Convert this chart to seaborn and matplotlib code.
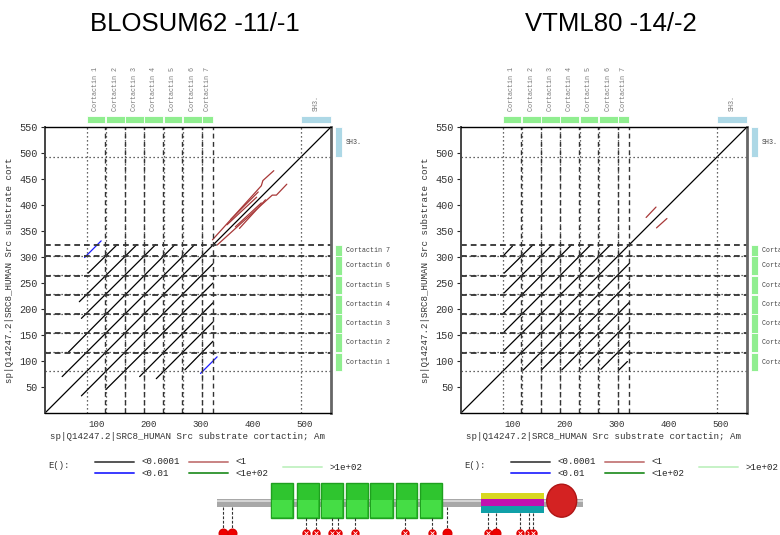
import numpy as np
import pandas as pd
import matplotlib
matplotlib.use('Agg')
import matplotlib.pyplot as plt
import seaborn as sns
from matplotlib.patches import Rectangle, Ellipse

# domains on the sequence (same protein on both axes)
rep_names = ['Cortactin 1', 'Cortactin 2', 'Cortactin 3', 'Cortactin 4',
             'Cortactin 5', 'Cortactin 6', 'Cortactin 7']
rep_start = [80, 117, 154, 191, 228, 265, 302]
rep_end = [116, 153, 190, 227, 264, 301, 323]
sh3_name = 'SH3.'
sh3_start, sh3_end = 492, 550
seq_len = 550

# hits, one polyline per hit
blosum_black = [
    [(0, 0), (550, 550)],
    [(33, 70), (288, 324)], [(45, 117), (250, 324)], [(70, 182), (213, 324)],
    [(66, 214), (177, 324)], [(83, 269), (139, 324)],
    [(70, 33), (323, 287)], [(117, 45), (323, 250)], [(182, 70), (323, 212)],
    [(214, 66), (323, 175)], [(269, 83), (323, 138)],
]
blosum_blue = [[(76, 299), (108, 331)], [(299, 76), (331, 108)]]
blosum_red = [
    [(322, 333), (416, 437), (419, 447), (440, 466)],
    [(331, 323), (437, 419), (445, 419), (465, 440)],
    [(357, 372), (410, 425)],
    [(350, 362), (407, 415)],
    [(374, 355), (424, 410)],
    [(366, 358), (416, 404)],
]
vtml_black = [
    [(0, 0), (550, 550)],
    [(82, 119), (288, 324)], [(83, 156), (250, 324)], [(82, 192), (213, 324)],
    [(83, 231), (176, 324)], [(83, 269), (139, 324)], [(81, 302), (99, 321)],
    [(119, 82), (324, 288)], [(155, 83), (324, 252)], [(194, 83), (324, 213)],
    [(232, 84), (324, 176)], [(269, 84), (324, 139)], [(304, 83), (320, 99)],
]
vtml_blue = []
vtml_red = [[(356, 376), (375, 396)], [(376, 356), (396, 374)]]

# E() legend
e_labels = ['<0.0001', '<0.01', '<1', '<1e+02', '>1e+02']
e_colors = ['#555555', '#3a3aff', '#c98383', '#3a9a3a', '#c6f2c6']

# protein schematic under the plots (residue positions)
box_start = [81, 120, 156, 194, 230, 269, 305]
box_end = [114, 153, 189, 227, 264, 301, 338]
coil_start, coil_end = 397, 491
sh3_center, sh3_width = 518, 45
site_pos = [9, 23, 134, 149, 173, 182, 207, 283, 323, 346, 407, 419, 456, 469, 475]
site_solid = [True, True, False, False, False, False, False, False, False,
              True, False, True, False, False, False]

sns.set_style('white')
mono = 'Liberation Mono'
hit_colors = {'black': 'black', 'blue': '#1c1cff', 'red': '#a83838'}

fig = plt.figure(figsize=(7.8, 5.35), dpi=100)


def hits_frame(black, blue, red):
    rows = []
    for kind, segs in [('black', black), ('blue', blue), ('red', red)]:
        for i, seg in enumerate(segs):
            for k, (x, y) in enumerate(seg):
                rows.append({'hit': f'{kind}{i}', 'x': x, 'y': y, 'e': kind, 'k': k})
    return pd.DataFrame(rows)


def draw_panel(left, title, black, blue, red):
    ax = fig.add_axes([left / 780, 122 / 535, 286 / 780, 286 / 535])
    df = hits_frame(black, blue, red)
    sns.lineplot(data=df, x='x', y='y', units='hit', estimator=None, hue='e',
                 palette=hit_colors, sort=False, legend=False, lw=0.9, ax=ax)

    # domain boundaries: starts dotted, ends dashed
    for s in rep_start + [sh3_start]:
        ax.axvline(s, color='#333333', lw=0.9, ls=(0, (1, 2.2)))
        ax.axhline(s, color='#333333', lw=0.9, ls=(0, (1, 2.2)))
    for e in rep_end:
        ax.axvline(e, color='#333333', lw=1.0, ls=(0, (3.5, 2.5)))
        ax.axhline(e, color='#333333', lw=1.3, ls=(0, (3.2, 2.2)))

    ax.set_xlim(0, seq_len)
    ax.set_ylim(0, seq_len)
    ax.set_xticks([100, 200, 300, 400, 500])
    ax.set_yticks([50, 100, 150, 200, 250, 300, 350, 400, 450, 500, 550])
    ax.tick_params(axis='x', length=0, pad=5, labelsize=6.6, labelcolor='#333333')
    ax.tick_params(axis='y', length=3, width=0.8, pad=2, labelsize=7.3,
                   labelcolor='#333333', left=True)
    for lab in ax.get_xticklabels() + ax.get_yticklabels():
        lab.set_family(mono)
    ax.set_xlabel('sp|Q14247.2|SRC8_HUMAN Src substrate cortactin; Am',
                  fontsize=6.6, family=mono, color='#333333', labelpad=2)
    ax.set_ylabel('sp|Q14247.2|SRC8_HUMAN Src substrate cort',
                  fontsize=6.6, family=mono, color='#333333', labelpad=4)
    for side in ['top', 'bottom']:
        ax.spines[side].set_color('black')
        ax.spines[side].set_linewidth(1.0)
    ax.spines['left'].set_color('#444444')
    ax.spines['left'].set_linewidth(1.4)
    ax.spines['right'].set_color('#666666')
    ax.spines['right'].set_linewidth(2.0)

    # domain bars above and to the right
    tx = ax.get_xaxis_transform()
    ty = ax.get_yaxis_transform()
    names = rep_names + [sh3_name]
    starts = rep_start + [sh3_start]
    ends = rep_end + [sh3_end]
    for n, s, e in zip(names, starts, ends):
        col = '#add8e6' if n == sh3_name else '#90ee90'
        ax.add_patch(Rectangle((s, 1.015), e - s, 0.025, transform=tx,
                               facecolor=col, edgecolor='white', lw=0.6, clip_on=False))
        ax.text((s + e) / 2, 1.055, n, transform=tx, rotation=90, ha='center',
                va='bottom', fontsize=4.9, family=mono, color='#7a7a7a')
        ax.add_patch(Rectangle((1.014, s), 0.024, e - s, transform=ty,
                               facecolor=col, edgecolor='white', lw=0.6, clip_on=False))
        ax.text(1.052, (s + e) / 2, n, transform=ty, ha='left', va='center',
                fontsize=4.8, family=mono, color='#444444')

    fig.text((left + 150) / 780, 1 - 24 / 535, title, ha='center', va='center',
             fontsize=18.5, family='Liberation Sans', color='black')
    return ax


draw_panel(45, 'BLOSUM62 -11/-1', blosum_black, blosum_blue, blosum_red)
draw_panel(461, 'VTML80 -14/-2', vtml_black, vtml_blue, vtml_red)

# legends (pixel overlay)
over = fig.add_axes([0, 0, 1, 1], zorder=-1)
over.set_xlim(0, 780)
over.set_ylim(535, 0)
over.axis('off')
slots = [(95, 462), (95, 473), (189, 462), (189, 473), (283, 467)]
for dx in [0, 416]:
    over.text(48 + dx, 465, 'E():', fontsize=6.4, family=mono, va='center', color='#333333')
    for lab, col, (x, y) in zip(e_labels, e_colors, slots):
        over.plot([x + dx, x + 39 + dx], [y, y], color=col, lw=1.4)
        over.text(x + 47 + dx, y, lab, fontsize=6.6, family=mono, va='center', color='#222222')

# protein schematic
dom = fig.add_axes([217 / 780, 0, 366 / 780, 57 / 535])
dom.set_xlim(0, seq_len)
dom.set_ylim(57, 0)
dom.axis('off')
dom.add_patch(Rectangle((0, 20.5), seq_len, 8, facecolor='#a8a8a8', edgecolor='none'))
dom.add_patch(Rectangle((0, 21.5), seq_len, 2, facecolor='#d4d4d4', edgecolor='none'))
for s, e in zip(box_start, box_end):
    dom.add_patch(Rectangle((s, 4.7), e - s, 35.6, facecolor='#2fc52f',
                            edgecolor='#1fa01f', lw=1.0))
    dom.add_patch(Rectangle((s + 1.5, 22), e - s - 3, 17, facecolor='#45dd45',
                            edgecolor='none'))
dom.add_patch(Rectangle((coil_start, 14.7), coil_end - coil_start, 6.6,
                        facecolor='#d8d820', edgecolor='none'))
dom.add_patch(Rectangle((coil_start, 21.3), coil_end - coil_start, 6.7,
                        facecolor='#c010b0', edgecolor='none'))
dom.add_patch(Rectangle((coil_start, 28), coil_end - coil_start, 6.7,
                        facecolor='#10a0a8', edgecolor='none'))
dom.add_patch(Ellipse((sh3_center, 22.7), sh3_width, 33, facecolor='#d42222',
                      edgecolor='#b01515', lw=1.0))

for p, solid in zip(site_pos, site_solid):
    if any(s <= p <= e for s, e in zip(box_start, box_end)):
        top = 40.3
    elif coil_start <= p <= coil_end:
        top = 34.7
    else:
        top = 28.5
    dom.plot([p, p], [top, 51], color='#333333', lw=0.8, ls=(0, (2.5, 1.5)))
    if solid:
        dom.plot(p, 55, 'o', color='#ee0000', ms=6.2, mec='#dd0000', clip_on=False)
    else:
        dom.plot(p, 55, 'o', color='#ee0000', ms=5, mec='#dd0000', clip_on=False)
        dom.plot(p, 55, 'x', color='white', ms=2.2, mew=0.6, clip_on=False)

fig.savefig('out.png', dpi=100)
